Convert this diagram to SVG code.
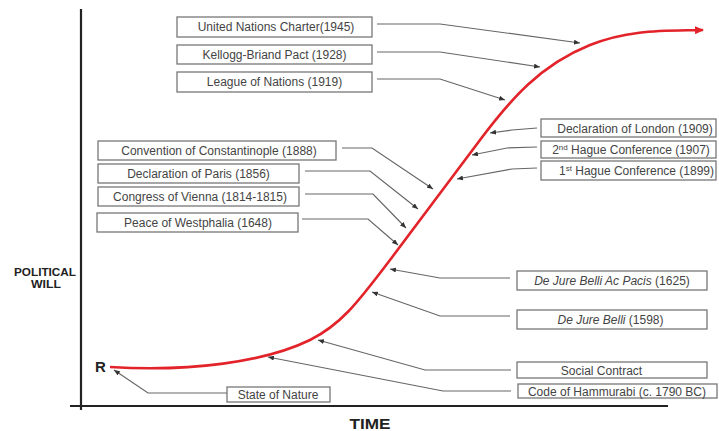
<svg xmlns="http://www.w3.org/2000/svg" width="719" height="431" viewBox="0 0 719 431">
<defs>
<marker id="dot" markerUnits="userSpaceOnUse" markerWidth="7" markerHeight="5" refX="6" refY="2.5" orient="auto">
<path d="M0,0 L6,2.5 L0,5 z" fill="#333"/>
</marker>
<marker id="redhead" markerUnits="userSpaceOnUse" markerWidth="10" markerHeight="8" refX="8" refY="4" orient="auto">
<path d="M0,0 L9,4 L0,8 z" fill="#e3232a"/>
</marker>
<style>
.box{fill:#fff;stroke:#777;stroke-width:1.3}
.lbl{font-family:"Liberation Sans",Arial,sans-serif;font-size:12px;fill:#444;text-anchor:middle}
.it{font-style:italic}
.conn{fill:none;stroke:#666;stroke-width:1.2;marker-end:url(#dot)}
.axis{stroke:#222;stroke-width:2.2;fill:none}
.ax{font-family:"Liberation Sans",Arial,sans-serif;font-weight:bold;fill:#222}
</style>
</defs>
<rect width="719" height="431" fill="#fff"/>
<g id="axes">
<line class="axis" x1="81" y1="9" x2="81" y2="410"/>
<line class="axis" x1="70" y1="406" x2="668" y2="406"/>
<text class="ax" x="45" y="276" font-size="10.5" text-anchor="middle" textLength="62" lengthAdjust="spacingAndGlyphs">POLITICAL</text>
<text class="ax" x="46" y="288" font-size="10.5" text-anchor="middle" textLength="30" lengthAdjust="spacingAndGlyphs">WILL</text>
<text class="ax" x="370" y="429" font-size="14.5" text-anchor="middle" textLength="41" lengthAdjust="spacingAndGlyphs">TIME</text>
<text class="ax" x="95" y="372" font-size="15" fill="#333">R</text>
</g>
<g id="curve">
<path d="M110,367 C190,372 265,362 310,340 C340,325 356,305 390,260 L480,140 C510,100 540,65 590,45 C630,29 665,31 703,30" fill="none" stroke="#e3232a" stroke-width="2.6" marker-end="url(#redhead)"/>
</g>
<g id="connectors">
<polyline class="conn" points="377,24 440,24 580,43"/>
<polyline class="conn" points="377,52 440,52 540,67"/>
<polyline class="conn" points="377,79 440,79 505,100"/>
<polyline class="conn" points="342,148 372,148 433,189"/>
<polyline class="conn" points="305,171 370,171 418,209"/>
<polyline class="conn" points="305,194 373,194 406,228"/>
<polyline class="conn" points="302,219 368,219 398,245"/>
<polyline class="conn" points="537,128 512,130 490,133"/>
<polyline class="conn" points="537,147 507,148 472,155"/>
<polyline class="conn" points="537,168 512,169 457,179"/>
<polyline class="conn" points="510,278 440,278 390,269"/>
<polyline class="conn" points="510,316 440,316 372,292"/>
<polyline class="conn" points="511,370 425,370 318,340"/>
<polyline class="conn" points="511,391 443,391 268,357"/>
<polyline class="conn" points="227,393 148,393 114,370"/>
</g>
<g id="un"><rect class="box" x="177" y="17" width="195" height="20"/><text class="lbl" x="276" y="31">United Nations Charter(1945)</text></g>
<g id="kellogg"><rect class="box" x="177" y="45" width="195" height="19"/><text class="lbl" x="274.5" y="59">Kellogg-Briand Pact (1928)</text></g>
<g id="league"><rect class="box" x="177" y="72" width="195" height="20"/><text class="lbl" x="274.5" y="86">League of Nations (1919)</text></g>
<g id="constantinople"><rect class="box" x="98" y="141" width="238" height="19"/><text class="lbl" x="219" y="155">Convention of Constantinople (1888)</text></g>
<g id="paris"><rect class="box" x="98" y="164" width="201" height="19"/><text class="lbl" x="198.5" y="178">Declaration of Paris (1856)</text></g>
<g id="vienna"><rect class="box" x="98" y="187" width="201" height="19"/><text class="lbl" x="200" y="201">Congress of Vienna (1814-1815)</text></g>
<g id="westphalia"><rect class="box" x="97" y="213" width="201" height="19"/><text class="lbl" x="198" y="227">Peace of Westphalia (1648)</text></g>
<g id="london"><rect class="box" x="541" y="119" width="175" height="18"/><text class="lbl" x="635" y="132.5">Declaration of London (1909)</text></g>
<g id="hague2"><rect class="box" x="541" y="141" width="175" height="17"/><text class="lbl" x="631" y="154">2<tspan font-size="8" dy="-4">nd</tspan><tspan dy="4"> Hague Conference (1907)</tspan></text></g>
<g id="hague1"><rect class="box" x="541" y="161" width="175" height="19"/><text class="lbl" x="636.5" y="175">1<tspan font-size="8" dy="-4">st</tspan><tspan dy="4"> Hague Conference (1899)</tspan></text></g>
<g id="pacis"><rect class="box" x="517" y="271" width="190" height="19"/><text class="lbl" x="612" y="285"><tspan class="it">De Jure Belli Ac Pacis</tspan> (1625)</text></g>
<g id="belli"><rect class="box" x="517" y="310" width="190" height="19"/><text class="lbl" x="610.5" y="324"><tspan class="it">De Jure Belli</tspan> (1598)</text></g>
<g id="social"><rect class="box" x="517" y="362" width="190" height="16"/><text class="lbl" x="601.5" y="374.5">Social Contract</text></g>
<g id="hammurabi"><rect class="box" x="518" y="384" width="199" height="14"/><text class="lbl" x="617" y="396">Code of Hammurabi (c. 1790 BC)</text></g>
<g id="nature"><rect class="box" x="227" y="387" width="103" height="15"/><text class="lbl" x="278" y="398.5">State of Nature</text></g>
</svg>
